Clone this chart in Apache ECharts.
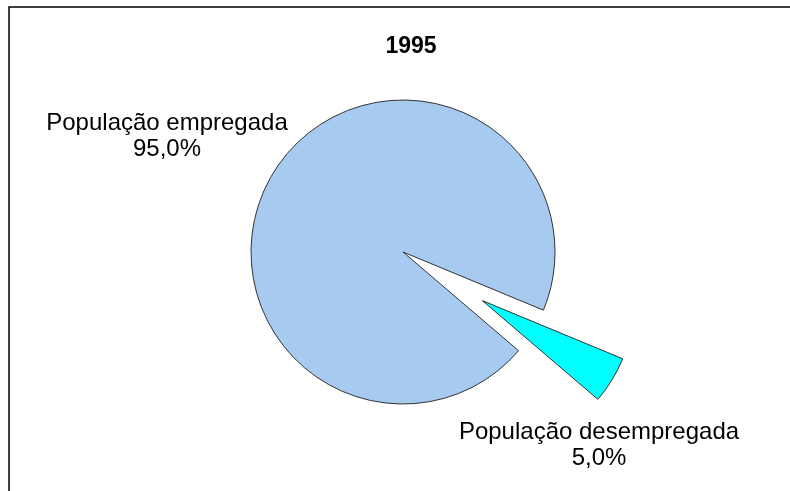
<!DOCTYPE html>
<html>
<head>
<meta charset="utf-8">
<script src="https://cdn.jsdelivr.net/npm/echarts@6/dist/echarts.min.js"></script>
<style>
  html, body { margin: 0; padding: 0; background: #fff; }
  #container { width: 790px; height: 491px; }
</style>
</head>
<body>
<div id="container"></div>
<script>
var titleText = '1995';
var categories = ['População empregada', 'População desempregada'];
var values = [95.0, 5.0];
var colors = ['#A6CAF0', '#00FFFF'];

// label anchor points (pixels) for each slice
var labelPos = [[167, 136], [599, 445]];
// pie centre, and the pulled-out slice's centre (offset 93px along its mid angle)
var pieCenter = [403, 252];
var explodedCenter = [482.3, 300.6];

var dom = document.getElementById('container');
var myChart = echarts.init(dom);

function sliceSeries(showIndex, center) {
    return {
        type: 'pie',
        center: center,
        radius: 152,
        startAngle: -40.5,
        clockwise: true,
        avoidLabelOverlap: false,
        silent: true,
        emphasis: { disabled: true },
        label: {
            show: true,
            position: 'outside',
            fontFamily: 'Liberation Sans, Arial, sans-serif',
            fontSize: 24,
            lineHeight: 26,
            color: '#000',
            align: 'center',
            formatter: function (p) {
                return p.name + '\n' + p.value.toFixed(1).replace('.', ',') + '%';
            }
        },
        labelLine: { show: false },
        labelLayout: function (params) {
            var pos = labelPos[params.dataIndex];
            return {
                x: pos[0],
                y: pos[1],
                align: 'center',
                verticalAlign: 'middle'
            };
        },
        data: categories.map(function (name, i) {
            var shown = i === showIndex;
            return {
                name: name,
                value: values[i],
                label: { show: shown },
                itemStyle: shown
                    ? { color: colors[i], borderColor: '#333', borderWidth: 1 }
                    : { color: 'rgba(0,0,0,0)', borderWidth: 0 }
            };
        })
    };
}

var option = {
    backgroundColor: '#fff',
    animation: false,
    title: {
        text: titleText,
        left: 411,
        top: 35,
        padding: 0,
        textAlign: 'center',
        textStyle: {
            fontFamily: 'Liberation Sans, Arial, sans-serif',
            fontSize: 23,
            fontWeight: 'bold',
            color: '#000'
        }
    },
    graphic: [{
        type: 'rect',
        shape: { x: 9, y: 7, width: 900, height: 600 },
        style: { fill: 'none', stroke: '#000', lineWidth: 1.5 },
        silent: true
    }],
    series: [
        sliceSeries(0, pieCenter),
        sliceSeries(1, explodedCenter)
    ]
};

myChart.setOption(option);
</script>
</body>
</html>
